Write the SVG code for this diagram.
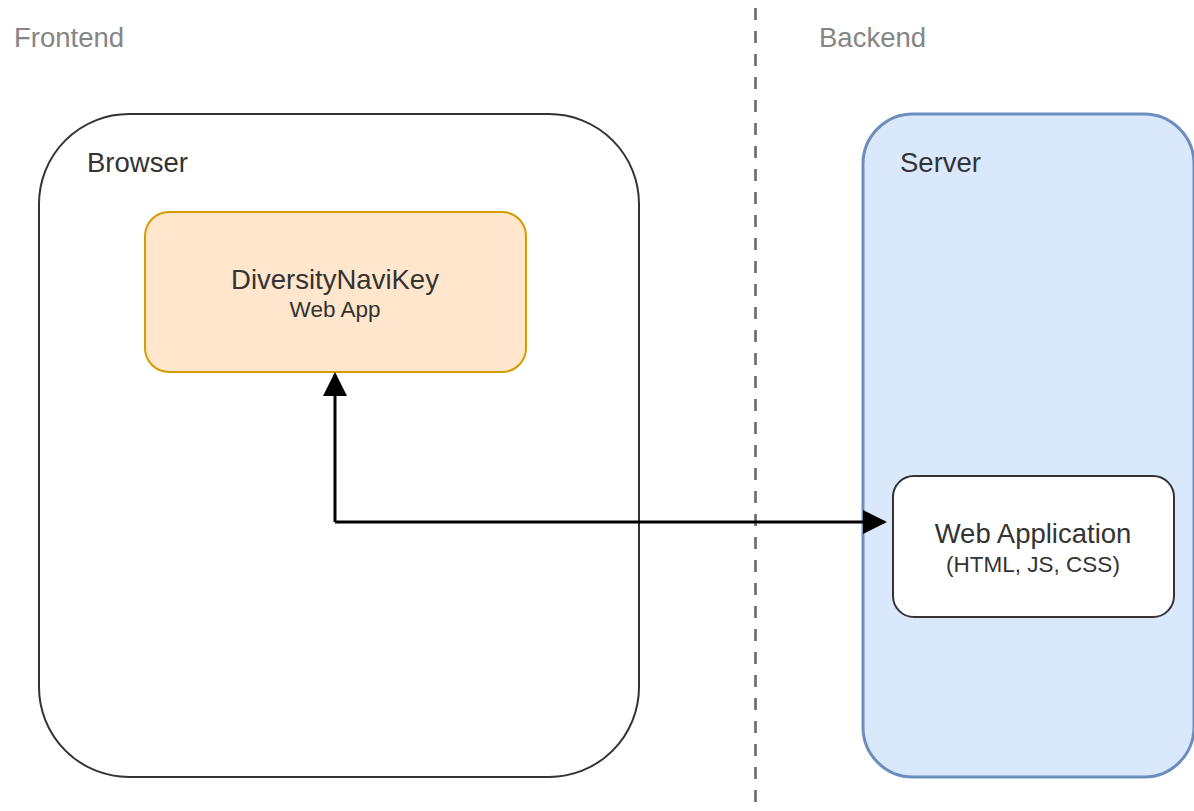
<svg xmlns="http://www.w3.org/2000/svg" width="1194" height="811" viewBox="0 0 1194 811">
<style>
text { font-family: "Liberation Sans", Arial, sans-serif; }
.lbl { font-size: 27.5px; fill: #858585; }
.title { font-size: 27.5px; fill: #333333; }
.main { font-size: 27.5px; fill: #333333; text-anchor: middle; }
.sub { font-size: 22.5px; fill: #333333; text-anchor: middle; }
.conn { fill: none; stroke: #000000; stroke-width: 3; }
</style>
<defs>
<marker id="arrow" markerWidth="8" markerHeight="8" refX="7" refY="4" orient="auto" markerUnits="strokeWidth">
<path d="M0,0 L8,4 L0,8 Z" fill="#000000"/>
</marker>
</defs>
<rect width="1194" height="811" fill="#ffffff"/>
<g id="divider">
<line x1="755.5" y1="8" x2="755.5" y2="811" stroke="#6e6e6e" stroke-width="2.7" stroke-dasharray="12,11"/>
</g>
<g id="label-frontend"><text class="lbl" x="14" y="47">Frontend</text></g>
<g id="label-backend"><text class="lbl" x="819" y="47">Backend</text></g>
<g id="browser">
<rect x="39" y="114" width="600" height="663" rx="90" ry="90" fill="#ffffff" stroke="#333333" stroke-width="2"/>
<text class="title" x="87" y="172">Browser</text>
</g>
<g id="server">
<rect x="863" y="114" width="331" height="663" rx="50" ry="50" fill="#dae8fc" stroke="#6c8ebf" stroke-width="3"/>
<text class="title" x="900" y="172">Server</text>
</g>
<g id="diversitynavikey">
<rect x="145" y="212" width="381" height="160" rx="24" ry="24" fill="#ffe6cc" stroke="#d79b00" stroke-width="2"/>
<text class="main" x="335" y="289">DiversityNaviKey</text>
<text class="sub" x="335" y="317">Web App</text>
</g>
<g id="webapplication">
<rect x="893" y="476" width="281" height="141" rx="21" ry="21" fill="#ffffff" stroke="#333333" stroke-width="2"/>
<text class="main" x="1033" y="543">Web Application</text>
<text class="sub" x="1033" y="572">(HTML, JS, CSS)</text>
</g>
<g id="connectors">
<path class="conn" d="M335,522 L335,375" marker-end="url(#arrow)"/>
<path class="conn" d="M335,522 L884,522" marker-end="url(#arrow)"/>
</g>
</svg>
